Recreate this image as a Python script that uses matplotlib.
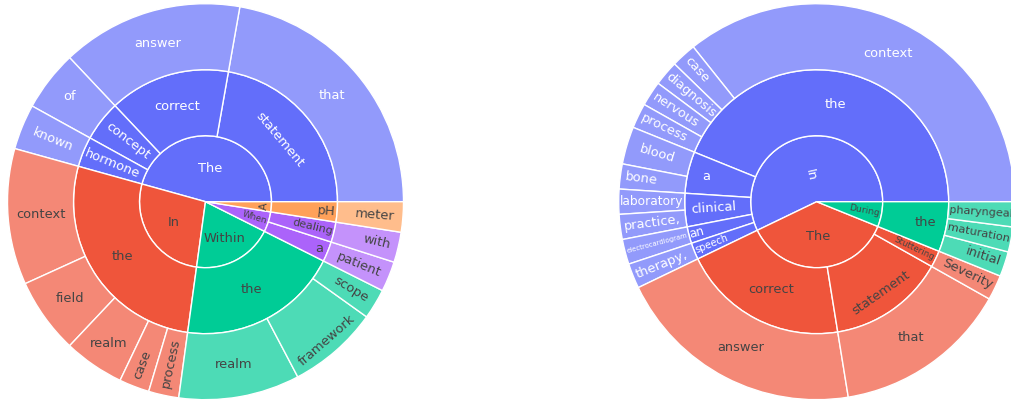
import math
import matplotlib
matplotlib.use("Agg")
import matplotlib.pyplot as plt
from matplotlib.patches import Wedge
from matplotlib.font_manager import FontProperties

# ---------------- data ----------------
left_level1 = ["The", "The", "The", "The",
               "In", "In", "In", "In", "In",
               "Within", "Within", "Within",
               "When", "When",
               "A"]
left_level2 = ["statement", "correct", "concept", "hormone",
               "the", "the", "the", "the", "the",
               "the", "the", "the",
               "a", "dealing",
               "pH"]
left_level3 = ["that", "answer", "of", "known",
               "context", "field", "realm", "case", "process",
               "realm", "framework", "scope",
               "patient", "with",
               "meter"]
left_values = [9, 6, 2, 1.5,
               4.5, 2.5, 2, 1, 1,
               4, 3, 1,
               1, 1,
               1]

right_level1 = ["In"] * 11 + ["The"] * 3 + ["During"] * 3
right_level2 = ["the", "the", "the", "the", "the", "a", "a",
                "clinical", "clinical", "an", "speech",
                "correct", "statement", "Stuttering",
                "the", "the", "the"]
right_level3 = ["context", "case", "diagnosis", "nervous", "process", "blood", "bone",
                "laboratory", "practice,", "electrocardiogram", "therapy,",
                "answer", "that", "Severity",
                "initial", "maturation", "pharyngeal"]
right_values = [17.5, 1, 1, 1, 1, 1.5, 1,
                1, 1, 1, 1,
                10, 7, 1,
                1, 1, 1]

palette = ["#636efa", "#EF553B", "#00cc96", "#ab63fa", "#FFA15A"]

# ---------------- layout / style ----------------
W, H = 1011, 405
DPI = 100
RADII = [0, 66, 132, 198]
BASE_PX = 13.0
TEXTPAD = 3

fig = plt.figure(figsize=(W / DPI + 1e-6, H / DPI + 1e-6), dpi=DPI)
ax = fig.add_axes([0, 0, 1, 1])
ax.set_xlim(0, W)
ax.set_ylim(0, H)
ax.axis("off")
renderer = fig.canvas.get_renderer()
FONT = "DejaVu Sans"
prop = FontProperties(family=FONT, size=BASE_PX * 72 / DPI)


def hex_rgb(h):
    h = h.lstrip("#")
    return tuple(int(h[i:i + 2], 16) / 255 for i in (0, 2, 4))


def blend(c, a=0.7):
    r, g, b = hex_rgb(c)
    return (r * a + (1 - a), g * a + (1 - a), b * a + (1 - a))


def text_color(c):
    r, g, b = hex_rgb(c)
    bright = (r * 299 + g * 587 + b * 114) / 1000 * 255
    return "#444444" if bright >= 128 else "white"


def measure(s):
    w, h, d = renderer.get_text_width_height_descent(s, prop, ismath=False)
    return w, BASE_PX * 1.19


def max_half(a, half, r, ring):
    q = a + 1 / (2 * math.tan(half))
    return r * min(1 / (math.sqrt(q * q + 0.5) + q),
                   ring / (math.sqrt(a * a + ring / 2) + a))


def rcenter(a, b):
    b = min(b, 1.0)
    return math.sqrt(1 - b * b) - a * b


def norm_rot(deg):
    d = deg % 180
    if d > 90:
        d -= 180
    return d


def fit(label, r0, r1, t0, t1):
    w, h = measure(label)
    delta = t1 - t0
    ad = ((delta + math.pi) % (2 * math.pi)) - math.pi
    if ad == 0:
        ad = math.pi
    half = 0.5 * min(ad, math.pi)
    mid = 0.5 * (t0 + t1)
    ring = 1 - r0 / r1
    s = math.sin(half)
    rins = 0.0
    if s != 0 and (1 + 1 / s) != 0:
        rins = max(0.0, min(1 / (1 + 1 / s), ring / 2))
    diam = math.hypot(w, h)
    hs = rins * r1 * 2 / diam
    if hs >= 1:
        return 1.0, (1 - rins) * r1, 0.0, mid
    cands = [(hs, (1 - rins) * r1, 0.0)]
    rr = max(0, r1 - 2 * TEXTPAD)
    a = w / h
    sz = max_half(a, half, rr, ring)
    cands.append((sz * 2 / h, rcenter(a, sz / rr) * r1, norm_rot(math.degrees(mid))))
    a = h / w
    sz = max_half(a, half, rr, ring)
    cands.append((sz * 2 / w, rcenter(a, sz / rr) * r1, norm_rot(math.degrees(mid) + 90)))
    best = cands[0]
    for c in cands[1:]:
        if c[0] > best[0]:
            best = c
    return min(1.0, best[0]), best[1], best[2], mid


def build(l1, l2, l3, vals):
    tree = {}
    order1 = []
    for a, b, c, v in zip(l1, l2, l3, vals):
        if a not in tree:
            tree[a] = {}
            order1.append(a)
        if b not in tree[a]:
            tree[a][b] = []
        tree[a][b].append((c, v))
    colors = {name: palette[i % len(palette)] for i, name in enumerate(order1)}
    return tree, order1, colors


def draw_sunburst(cx, cy, l1, l2, l3, vals):
    tree, order1, colors = build(l1, l2, l3, vals)
    total = float(sum(vals))
    segs = []  # (label, level, t0, t1, color, is_leaf, base)

    def tot1(n):
        return sum(v for lst in tree[n].values() for _, v in lst)

    roots = sorted(order1, key=lambda n: -tot1(n))
    ang = 0.0
    for rn in roots:
        base = colors[rn]
        a1 = 360 * tot1(rn) / total
        segs.append((rn, 0, ang, ang + a1, base, False, base))
        kids = list(tree[rn].keys())
        kids = sorted(kids, key=lambda k: -sum(v for _, v in tree[rn][k]))
        a_k = ang
        for k in kids:
            kv = sum(v for _, v in tree[rn][k])
            ak = 360 * kv / total
            segs.append((k, 1, a_k, a_k + ak, base, False, base))
            leaves = sorted(tree[rn][k], key=lambda t: -t[1])
            a_l = a_k
            for lab, lv in leaves:
                al = 360 * lv / total
                segs.append((lab, 2, a_l, a_l + al, blend(base), True, base))
                a_l += al
            a_k += ak
        ang += a1

    for lab, lvl, t0, t1, col, leaf, base in segs:
        r0, r1 = RADII[lvl], RADII[lvl + 1]
        wd = Wedge((cx, cy), r1, t0, t1, width=(r1 - r0) if r0 > 0 else None,
                   facecolor=col, edgecolor="white", linewidth=1.0)
        ax.add_patch(wd)

    for lab, lvl, t0, t1, col, leaf, base in segs:
        r0, r1 = RADII[lvl], RADII[lvl + 1]
        scale, pos, rot, mid = fit(lab, r0, r1, math.radians(t0), math.radians(t1))
        x = cx + pos * math.cos(mid)
        y = cy + pos * math.sin(mid)
        ax.text(x, y, lab, fontsize=BASE_PX * scale * 72 / DPI, family=FONT,
                color=text_color(base), rotation=rot, rotation_mode="anchor",
                ha="center", va="center")


draw_sunburst(205.5, H - 201.7, left_level1, left_level2, left_level3, left_values)
draw_sunburst(816.7, H - 201.7, right_level1, right_level2, right_level3, right_values)

fig.savefig("out.png", dpi=DPI, facecolor="white")
